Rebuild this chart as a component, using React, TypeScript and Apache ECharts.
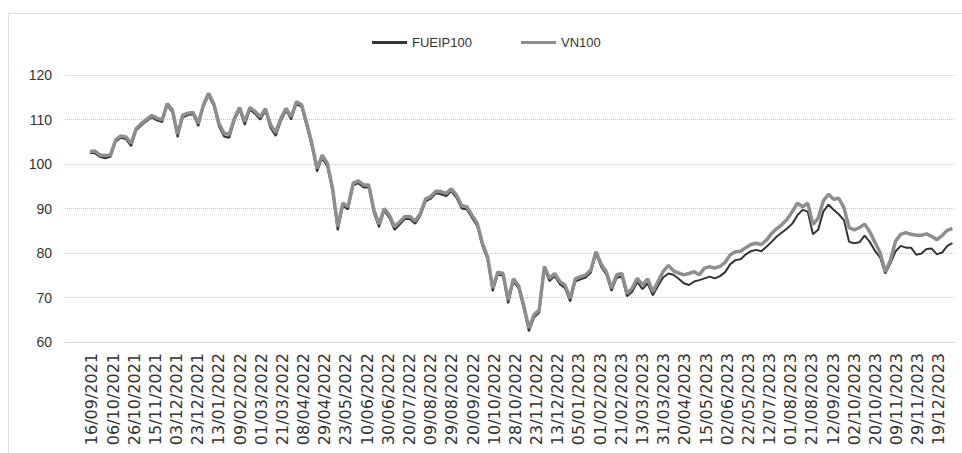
import React, { useEffect, useRef } from "react";
import * as echarts from "echarts";

const dateLabels = [
  "16/09/2021", "06/10/2021", "26/10/2021", "15/11/2021", "03/12/2021", "23/12/2021",
  "13/01/2022", "09/02/2022", "01/03/2022", "21/03/2022", "08/04/2022", "29/04/2022",
  "23/05/2022", "10/06/2022", "30/06/2022", "20/07/2022", "09/08/2022", "29/08/2022",
  "20/09/2022", "10/10/2022", "28/10/2022", "23/11/2022", "13/12/2022", "05/01/2023",
  "01/02/2023", "21/02/2023", "13/03/2023", "31/03/2023", "20/04/2023", "15/05/2023",
  "02/06/2023", "22/05/2023", "12/07/2023", "01/08/2023", "21/08/2023", "12/09/2023",
  "02/10/2023", "20/10/2023", "09/11/2023", "29/11/2023", "19/12/2023",
];
// the series below are sampled observations; each date label falls every
// ~4.1 observations, starting 0.4 observation after the first one
const labelStep = 4.1;
const labelOffset = 0.4;

const yTicks = [60, 70, 80, 90, 100, 110, 120];

const vn100 = [
  102.8, 102.9, 102.0, 101.9, 102.0, 105.4, 106.3, 106.1, 104.6, 108.0,
  109.1, 110.0, 110.9, 110.3, 109.9, 113.6, 112.1, 106.7, 111.0, 111.4,
  111.6, 109.1, 113.3, 115.9, 113.6, 109.1, 106.9, 106.7, 110.3, 112.7,
  109.5, 112.7, 111.8, 110.6, 112.4, 108.8, 107.1, 110.3, 112.5, 110.6,
  114.0, 113.3, 109.1, 104.6, 99.0, 102.0, 100.1, 94.5, 85.9, 91.2,
  90.4, 95.7, 96.2, 95.3, 95.3, 89.7, 86.5, 90.0, 88.5, 85.9,
  87.0, 88.2, 88.2, 87.2, 88.9, 92.1, 92.7, 93.9, 93.8, 93.4,
  94.4, 93.0, 90.6, 90.4, 88.5, 86.7, 82.2, 79.2, 72.1, 75.7,
  75.4, 69.4, 74.2, 72.7, 68.3, 63.1, 66.1, 67.2, 77.0, 74.3,
  75.4, 73.6, 72.8, 69.8, 74.2, 74.7, 75.1, 76.2, 80.3, 77.5,
  75.8, 72.1, 75.1, 75.4, 70.9, 72.1, 74.3, 72.8, 74.2, 71.3,
  73.6, 75.8,
  77.2, 76.0, 75.5, 75.1, 75.4, 75.8, 75.1, 76.6, 76.9, 76.6,
  77.0, 77.9, 79.6, 80.3, 80.4, 81.2, 81.9, 82.2, 81.9, 82.9,
  84.4, 85.5, 86.4, 87.6, 89.3, 91.2, 90.4, 91.2, 86.4, 87.8,
  91.7, 93.2, 92.1, 92.3, 90.2, 85.7, 85.2, 85.7, 86.5, 84.8,
  82.4, 80.1, 75.8, 78.4, 82.7, 84.2, 84.6, 84.2, 84.0, 84.0,
  84.3, 83.7, 83.0, 83.9, 85.1, 85.5,
];

const fueip100 = [
  102.5, 102.4, 101.6, 101.3, 101.6, 105.0, 105.9, 105.6, 104.0, 107.6,
  108.7, 109.6, 110.5, 109.8, 109.4, 113.2, 111.6, 106.0, 110.5, 111.0,
  111.2, 108.5, 112.9, 115.4, 113.1, 108.5, 106.2, 105.9, 109.8, 112.2,
  108.8, 112.2, 111.3, 110.0, 111.9, 108.1, 106.3, 109.7, 112.0, 110.0,
  113.6, 112.8, 108.5, 103.9, 98.3, 101.4, 99.4, 93.8, 85.1, 90.6,
  89.8, 95.2, 95.7, 94.7, 94.8, 89.0, 85.8, 89.5, 87.9, 85.2,
  86.4, 87.7, 87.6, 86.6, 88.4, 91.6, 92.2, 93.4, 93.2, 92.8,
  93.9, 92.4, 90.0, 89.8, 87.9, 86.1, 81.6, 78.6, 71.4, 75.2,
  74.8, 68.7, 73.6, 72.1, 67.6, 62.4, 65.5, 66.6, 76.4, 73.7,
  74.8, 73.0, 72.1, 69.1, 73.6, 74.1, 74.5, 75.6, 79.8, 76.9,
  75.1, 71.5, 74.4, 74.7, 70.3, 71.3, 73.5, 71.9, 73.2, 70.5,
  72.6, 74.5,
  75.4, 75.1, 74.2, 73.2, 72.8, 73.6, 73.9, 74.3, 74.7, 74.3,
  74.8, 75.7, 77.5, 78.4, 78.6, 79.7, 80.4, 80.7, 80.4, 81.4,
  82.5, 83.7, 84.6, 85.5, 86.6, 88.5, 89.7, 89.3, 84.2, 85.2,
  89.3, 90.9, 89.7, 88.7, 87.4, 82.5, 82.2, 82.4, 83.9, 82.5,
  80.5, 79.0, 75.4, 77.7, 80.4, 81.6, 81.2, 81.2, 79.6, 79.9,
  80.9, 81.0, 79.7, 80.1, 81.6, 82.2,
];

export default function App() {
  const ref = useRef<HTMLDivElement>(null);

  useEffect(() => {
    if (!ref.current) return;
    const chart = echarts.init(ref.current, null, { renderer: "svg" });
    const labelPositions = dateLabels.map((_, i) => +(labelOffset + i * labelStep).toFixed(2));
    const labelAt = (v: number) => {
      const i = Math.round((v - labelOffset) / labelStep);
      return dateLabels[i] ?? "";
    };
    const toPairs = (arr: number[]) => arr.map((v, i) => [i, v]);
    const yMax = yTicks[yTicks.length - 1];

    chart.setOption({
      animation: false,
      backgroundColor: "#ffffff",
      graphic: [
        {
          type: "rect",
          shape: { x: 8.5, y: 13.5, width: 970, height: 460 },
          style: { fill: "none", stroke: "#dcdcdc", lineWidth: 1 },
          silent: true,
        },
      ],
      legend: {
        show: true,
        left: 367,
        top: 31,
        icon: "rect",
        itemWidth: 35,
        itemHeight: 3,
        itemGap: 49,
        textStyle: {
          fontFamily: "Liberation Sans",
          fontSize: 13,
          color: "#333333",
        },
        data: ["FUEIP100", "VN100"],
      },
      grid: { left: 65, right: 7, top: 75, bottom: 111 },
      xAxis: {
        type: "value",
        min: -4.8,
        max: 167.5,
        axisLine: { show: true, lineStyle: { color: "#d9d9d9", width: 1 } },
        axisTick: { show: false },
        splitLine: { show: false },
        axisLabel: {
          customValues: labelPositions,
          formatter: (v: number) => labelAt(v),
          rotate: 90,
          margin: 11,
          hideOverlap: false,
          showMinLabel: true,
          showMaxLabel: true,
          fontFamily: "DejaVu Sans",
          fontSize: 16,
          lineHeight: 16,
          color: "#333333",
        },
      },
      yAxis: {
        type: "value",
        min: yTicks[0],
        max: yMax,
        interval: 10,
        axisLine: { show: false },
        axisTick: { show: false },
        axisLabel: {
          margin: 13,
          fontFamily: "Liberation Sans",
          fontSize: 14,
          color: "#333333",
        },
        splitLine: {
          show: true,
          lineStyle: { color: "#c4c4c4", type: "dotted", width: 1 },
        },
      },
      series: [
        {
          name: "FUEIP100",
          type: "line",
          data: toPairs(fueip100),
          symbol: "none",
          lineStyle: { color: "#333333", width: 2 },
          itemStyle: { color: "#333333" },
          z: 2,
          markLine: {
            silent: true,
            symbol: "none",
            label: { show: false },
            lineStyle: { color: "#e0e0e0", type: "solid", width: 1 },
            data: [{ yAxis: yMax }],
          },
        },
        {
          name: "VN100",
          type: "line",
          data: toPairs(vn100),
          symbol: "none",
          lineStyle: { color: "#8e8e8e", width: 3.5 },
          itemStyle: { color: "#8e8e8e" },
          z: 3,
        },
      ],
    });

    return () => chart.dispose();
  }, []);

  return (
    <div
      ref={ref}
      style={{ position: "absolute", left: 0, top: 0, width: 962, height: 453 }}
    />
  );
}
